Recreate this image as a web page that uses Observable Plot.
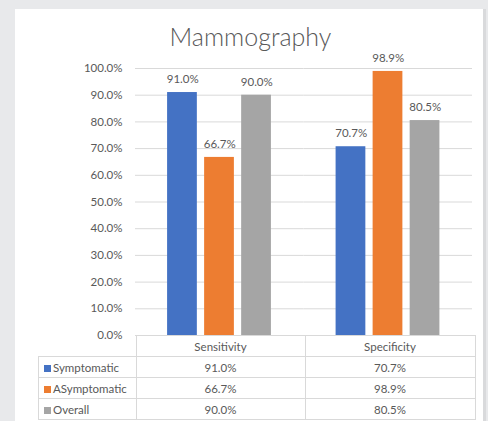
<!DOCTYPE html>
<html><head><meta charset="utf-8">
<script src="https://cdn.jsdelivr.net/npm/d3@7"></script>
<script src="https://cdn.jsdelivr.net/npm/@observablehq/plot@0.6"></script>
<style>
html,body{margin:0;padding:0}
body{background:#e8e9eb;width:488px;height:421px;overflow:hidden;position:relative;font-family:Lato,"Open Sans",sans-serif;color:#595959}
#panel{position:absolute;left:15px;top:9px;width:468px;height:412px;background:#fff;border-right:3px solid #d9dadc}
#title{position:absolute;left:15px;width:471px;top:21px;line-height:30px;text-align:center;font-size:25px;font-weight:300;color:#595959}
#chart{position:absolute;left:0;top:0}
#tbl{position:absolute;left:38px;top:335px;border-collapse:collapse;font-size:11.5px;color:#595959}
#tbl td{border:1px solid #d9d9d9;padding:0;height:20px;text-align:center;white-space:nowrap}
#tbl td.name{text-align:left;padding-left:5px}
#tbl td.blank{border:none;border-right:1px solid #d9d9d9}
.sw{display:inline-block;width:7px;height:7px;margin-right:2px;vertical-align:0px}
</style>
</head><body>
<div id="panel"></div>
<div id="title"></div>
<div id="chart"></div>
<table id="tbl"></table>
<script>
const chartTitle = "Mammography";
const categories = ["Sensitivity", "Specificity"];
const series = ["Symptomatic", "ASymptomatic", "Overall"];
const symptomatic = [91.0, 70.7];
const asymptomatic = [66.7, 98.9];
const overall = [90.0, 80.5];
const yTicks = [0, 10, 20, 30, 40, 50, 60, 70, 80, 90, 100];
const colors = ["#4472C4", "#ED7D31", "#A5A5A5"];

const values = [symptomatic, asymptomatic, overall];
const data = [];
series.forEach((s, i) => categories.forEach((c, j) => data.push({series: s, cat: c, value: values[i][j]})));
const fmt = v => v.toFixed(1) + "%";

document.getElementById("title").textContent = chartTitle;

const chart = Plot.plot({
  width: 488,
  height: 421,
  marginLeft: 135,
  marginRight: 16,
  marginTop: 68,
  marginBottom: 86,
  style: {fontFamily: "Lato, 'Open Sans', sans-serif", fontSize: "11.5px", color: "#595959", background: "transparent"},
  fx: {domain: categories, padding: 0, axis: null, round: false},
  x: {domain: series, paddingInner: 0.21, paddingOuter: 0.88, axis: null, round: false},
  y: {domain: [0, 100]},
  color: {domain: series, range: colors},
  marks: [
    Plot.gridY(yTicks, {stroke: "#d9d9d9", strokeOpacity: 1}),
    Plot.axisY(yTicks, {tickSize: 0, tickPadding: 13, tickFormat: fmt, label: null, fill: "#595959"}),
    Plot.barY(data, {fx: "cat", x: "series", y: "value", fill: "series", insetLeft: -0.5, insetRight: 0}),
    Plot.text(data, {fx: "cat", x: "series", y: "value", text: d => fmt(d.value), dy: -13, fill: "#595959"})
  ]
});
document.getElementById("chart").appendChild(chart);

// data table
const tbl = document.getElementById("tbl");
const colW = [97, 168, 169];
let hr = "<tr><td class='blank' style='width:" + colW[0] + "px'></td>";
categories.forEach((c, j) => hr += "<td style='width:" + colW[j + 1] + "px'>" + c + "</td>");
hr += "</tr>";
series.forEach((s, i) => {
  hr += "<tr><td class='name'><span class='sw' style='background:" + colors[i] + "'></span>" + s + "</td>";
  categories.forEach((c, j) => hr += "<td>" + fmt(values[i][j]) + "</td>");
  hr += "</tr>";
});
tbl.innerHTML = hr;
</script>
</body></html>
